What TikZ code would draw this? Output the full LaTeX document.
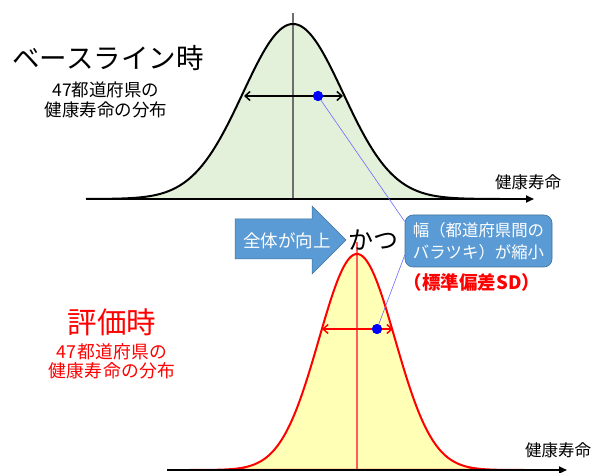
\documentclass[tikz,border=0pt]{standalone}
\usepackage{fontspec}
\newfontfamily\jp{Noto Sans CJK JP}
\usetikzlibrary{arrows.meta,calc}
\definecolor{grnfill}{HTML}{E3F0DA}
\definecolor{yelfill}{HTML}{FFFFB5}
\definecolor{boxblue}{HTML}{5B9BD5}
\definecolor{boxedge}{HTML}{41719C}
\definecolor{linkblue}{HTML}{6B6BFF}
\definecolor{meanred}{HTML}{FF5B5B}
\definecolor{meangray}{HTML}{6F6F6F}
\newcommand{\jpf}[2]{\jp\fontsize{#1}{#2}\selectfont}
\begin{document}
\begin{tikzpicture}[x=1pt,y=-1pt,
  axisline/.style={line width=1.8pt,-{Triangle[length=8pt,width=7pt]}},
  widtharrow/.style={line width=1.5pt,{Straight Barb[length=5pt,width=9pt]}-{Straight Barb[length=5pt,width=9pt]}},
  bluedot/.style={circle,fill=blue,inner sep=0pt,minimum size=10pt},
  linkline/.style={draw=linkblue,line width=0.6pt},
  lbl/.style={inner sep=0pt,align=center},
]
\useasboundingbox (0,0) rectangle (595,473);

% ---------- top distribution ----------
\fill[grnfill] plot[domain=86:500,samples=200] (\x,{199-175*exp(-0.5*((\x-293)/50)^2)}) -- cycle;
\coordinate (tmtop) at (293,13);
\coordinate (tmbot) at (293,198);
\draw[meangray,line width=1.3pt] (tmtop) -- (tmbot);
\draw[black,line width=2pt] plot[domain=86:500,samples=200] (\x,{199-175*exp(-0.5*((\x-293)/50)^2)});
\coordinate (ta1) at (86,199);
\coordinate (ta2) at (534,199);
\draw[axisline] (ta1) -- (ta2);
\coordinate (tw1) at (244,96);
\coordinate (tw2) at (343,96);
\draw[widtharrow] (tw1) -- (tw2);

% ---------- bottom distribution ----------
\fill[yelfill] plot[domain=190:524,samples=200] (\x,{470-216*exp(-0.5*((\x-357)/38)^2)}) -- cycle;
\coordinate (bmtop) at (357,242);
\coordinate (bmbot) at (357,469);
\draw[meanred,line width=1.3pt] (bmtop) -- (bmbot);
\draw[red,line width=2pt] plot[domain=190:524,samples=200] (\x,{470-216*exp(-0.5*((\x-357)/38)^2)}) -- cycle;
\coordinate (ba1) at (167,470);
\coordinate (ba2) at (567,470);
\draw[axisline] (ba1) -- (ba2);
\coordinate (bw1) at (322,329);
\coordinate (bw2) at (393,329);
\draw[widtharrow,red] (bw1) -- (bw2);

% ---------- labels ----------
\node[lbl,font=\jpf{27.5}{30}] (base) at (108,58) {ベースライン時};
\node[lbl,font=\jpf{17.5}{20}] (basesub) at (106,100) {47都道府県の\\健康寿命の分布};
\node[lbl,font=\jpf{29.5}{32},text=red] (eval) at (112,322) {評価時};
\node[lbl,font=\jpf{17.8}{19}\addfontfeature{LetterSpace=2}] (evalsub) at (112,361) {\textcolor{red}{47都道府県の}\\\textcolor{red}{健康寿命の分布}};
\node[lbl,font=\jpf{16.5}{18}] (xt) at (528,182) {健康寿命};
\node[lbl,font=\jpf{16.5}{18}] (xb) at (558,450) {健康寿命};

% ---------- block arrow ----------
\draw[fill=boxblue,draw=boxedge,line width=0.5pt] (235,219) -- (312,219) -- (312,206) -- (346,240) -- (312,274) -- (312,259) -- (235,259) -- cycle;
\node[lbl,font=\jpf{17.5}{20},text=white] (up) at (287,241) {全体が向上};
\node[lbl,font=\jpf{25}{28}] (katsu) at (373,240) {かつ};

% ---------- callout box ----------
\node[lbl,fill=boxblue,draw=boxedge,line width=0.6pt,rounded corners=8pt,
      minimum width=147pt,minimum height=52pt,text=white,font=\jpf{16.4}{22}] (box) at (478.5,241)
      {幅（都道府県間の\\バラツキ）が縮小};
\node[lbl,font=\jpf{18.5}{20}\bfseries,text=red] (sd) at (472,282) {（標準偏差SD）};

% ---------- dots and links ----------
\node[bluedot] (d1) at (318,96) {};
\node[bluedot] (d2) at (377,329) {};
\draw[linkline] (d1.center) -- ($(box.north west)!0.13!(box.south west)$);
\draw[linkline] (d2.center) -- ($(box.north west)!0.77!(box.south west)$);
\node[bluedot] at (d1) {};
\node[bluedot] at (d2) {};
\end{tikzpicture}
\end{document}
